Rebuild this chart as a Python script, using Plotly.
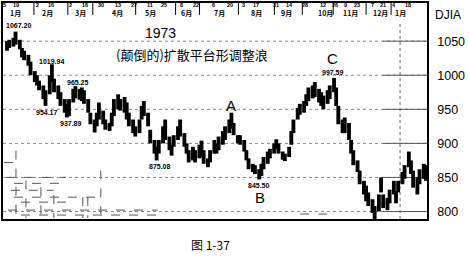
import plotly.graph_objects as go
import pandas as pd

# ---- data (DJIA 1973; every ~2 trading days) ----
high = [1050, 1052, 1055, 1064, 1052, 1040, 1036, 1030, 1020, 1006,
        1000, 992, 985, 978, 1000, 1016, 995, 985, 975, 965,
        958, 965, 980, 984, 980, 982, 978, 965, 945, 935,
        945, 960, 948, 935, 930, 945, 965, 972, 965, 968,
        960, 945, 935, 925, 935, 955, 962, 945, 920, 905,
        895, 905, 925, 935, 910, 898, 912, 925, 935, 915,
        900, 890, 895, 890, 898, 904, 890, 878, 890, 905,
        900, 910, 918, 925, 935, 945, 930, 912, 912, 905,
        890, 878, 870, 868, 862, 870, 880, 888, 892, 900,
        906, 900, 888, 885, 895, 918, 935, 952, 958, 962,
        972, 982, 985, 990, 980, 975, 970, 978, 985, 996,
        982, 955, 935, 938, 930, 905, 890, 875, 860, 845,
        838, 828, 818, 808, 825, 850, 825, 820, 832, 845,
        830, 845, 858, 868, 888, 875, 860, 850, 862, 870, 868]
low = [1036, 1040, 1042, 1045, 1038, 1026, 1022, 1014, 1000, 990,
       985, 978, 965, 955, 972, 990, 975, 965, 955, 945,
       938, 940, 960, 966, 964, 962, 958, 945, 928, 916,
       925, 935, 928, 920, 918, 925, 940, 950, 948, 945,
       935, 925, 915, 910, 915, 935, 940, 925, 900, 885,
       875, 885, 900, 905, 890, 882, 895, 905, 910, 895,
       885, 872, 875, 872, 878, 880, 870, 865, 872, 885,
       885, 890, 898, 905, 915, 922, 912, 900, 898, 888,
       875, 862, 858, 855, 847, 852, 862, 870, 878, 885,
       892, 885, 876, 874, 880, 898, 915, 935, 942, 945,
       955, 962, 966, 968, 960, 955, 950, 958, 965, 975,
       955, 928, 915, 915, 905, 885, 868, 858, 840, 825,
       815, 808, 798, 789, 800, 828, 805, 802, 812, 825,
       812, 828, 840, 848, 865, 855, 835, 825, 840, 848, 845]
dates = pd.bdate_range("1973-01-03", periods=len(high), freq="2B")

y_ticks = [800, 850, 900, 950, 1000, 1050]

day_labels = ["5", "19", "2", "16", "2", "16", "30", "13", "27", "11", "25", "8", "22",
              "6", "20", "3", "17", "31", "14", "28", "12", "26", "9", "23", "7", "21",
              "4", "18"]
day_px = [4, 15, 37, 50, 70, 84, 100, 117, 133, 149, 163, 181, 195,
          213, 230, 243, 256, 276, 289, 305, 323, 335, 345, 357, 372, 383, 394, 408]
month_labels = ["1月", "2月", "3月", "4月", "5月", "6月", "7月", "8月", "9月",
                "10月", "11月", "12月", "1月"]
month_px = [15, 47, 80, 117, 150, 186, 219, 256, 286, 325, 350, 380, 400]
sep_px = [33, 67, 92, 135, 175, 199, 238, 274, 302, 333, 366, 391]

point_labels = ["1067.20", "1019.94", "954.17", "965.25", "937.89", "875.08", "845.50", "997.59"]
point_px = [(18, 24), (51, 60), (46, 112), (77, 81), (70, 123), (159, 166), (259, 185), (333, 71)]
wave_labels = ["A", "B", "C"]
wave_px = [(231, 104), (260, 197), (332, 57)]
year_label = "1973"
title_label = "(颠倒的)扩散平台形调整浪"

# faint graph-paper marks visible in the lower-left of the scan (pixel segments)
paper_h = [(3, 20, 162), (5, 65, 177), (13, 63, 183), (10, 53, 190), (13, 97, 197),
           (20, 67, 202), (7, 157, 210), (20, 157, 215), (300, 330, 214)]
paper_v = [(15, 150, 218), (25, 180, 218), (40, 187, 218), (53, 195, 218),
           (82, 197, 218), (87, 197, 218), (100, 170, 214)]

# ---- geometry helpers (pixel -> paper) ----
L, R, T, B = 2, 427, 1, 219
W, H = 469, 266
Y0, Y1 = 789, 1106
def px(xp):
    return (xp - L) / (R - L)
def py(yp):
    return (B - yp) / (B - T)

DAY_MS = 86400000
fig = go.Figure()
fig.add_trace(go.Bar(
    x=dates, y=[h - l for h, l in zip(high, low)], base=low,
    width=3.6 * DAY_MS, marker=dict(color="black", line=dict(width=0)),
    showlegend=False, hoverinfo="skip"))

shapes = []
for v in y_ticks:
    shapes.append(dict(type="line", xref="paper", yref="y", x0=0, x1=1, y0=v, y1=v,
                       line=dict(color="#888", width=1, dash="dot"), layer="below"))
    shapes.append(dict(type="line", xref="paper", yref="y", x0=px(383), x1=1, y0=v, y1=v,
                       line=dict(color="#555", width=1), layer="below"))
shapes.append(dict(type="line", xref="paper", yref="paper", x0=px(400), x1=px(400),
                   y0=0, y1=py(20), line=dict(color="#666", width=1, dash="dot"), layer="below"))
for s in sep_px:
    shapes.append(dict(type="line", xref="paper", yref="paper", x0=px(s), x1=px(s),
                       y0=py(13), y1=1, line=dict(color="black", width=1)))
for x0, x1, yy in paper_h:
    shapes.append(dict(type="line", xref="paper", yref="paper", x0=px(x0), x1=px(x1),
                       y0=py(yy), y1=py(yy), line=dict(color="#555", width=1, dash="dash"),
                       layer="below"))
for xx, y0, y1 in paper_v:
    shapes.append(dict(type="line", xref="paper", yref="paper", x0=px(xx), x1=px(xx),
                       y0=py(y0), y1=py(y1), line=dict(color="#555", width=1, dash="dash"),
                       layer="below"))

def note(text, xp, yp, size, family, bold=False):
    return dict(text=f"<b>{text}</b>" if bold else text, x=px(xp), y=py(yp),
                xref="paper", yref="paper", showarrow=False,
                xanchor="center", yanchor="middle",
                font=dict(size=size, family=family, color="black"))

ann = []
for t, xp in zip(day_labels, day_px):
    ann.append(note(t, xp, 3.5, 5.5, "Liberation Sans", True))
for t, xp in zip(month_labels, month_px):
    ann.append(note(t, xp, 11, 7, "Noto Sans CJK SC", True))
for t, (xp, yp) in zip(point_labels, point_px):
    ann.append(note(t, xp, yp, 7, "Liberation Sans", True))
for t, (xp, yp) in zip(wave_labels, wave_px):
    ann.append(note(t, xp, yp, 15, "Liberation Sans"))
ann.append(note(year_label, 160, 31, 14, "Liberation Sans"))
ann.append(note(title_label, 191, 53, 13, "Noto Sans CJK SC"))
ann.append(note("DJIA", 448, 13, 12, "Liberation Sans"))
ann.append(note("图 1-37", 210, 245, 12, "Noto Sans CJK SC"))

fig.update_layout(
    width=W, height=H, margin=dict(l=L, r=W - R, t=T, b=H - B),
    paper_bgcolor="white", plot_bgcolor="white",
    shapes=shapes, annotations=ann, showlegend=False,
    xaxis=dict(type="date", range=["1972-12-30 06:00", "1974-01-31"], showgrid=False,
               showticklabels=False, ticks="", showline=True, mirror=True,
               linecolor="black", linewidth=1.5, zeroline=False),
    yaxis=dict(range=[Y0, Y1], side="right", tickvals=y_ticks,
               ticktext=[str(v) for v in y_ticks], showgrid=False, ticks="",
               ticklabelstandoff=6, showline=True, mirror=True, linecolor="black",
               linewidth=1.5, zeroline=False,
               tickfont=dict(size=12.5, family="Liberation Sans", color="black")),
)
fig.write_html("out.html")
